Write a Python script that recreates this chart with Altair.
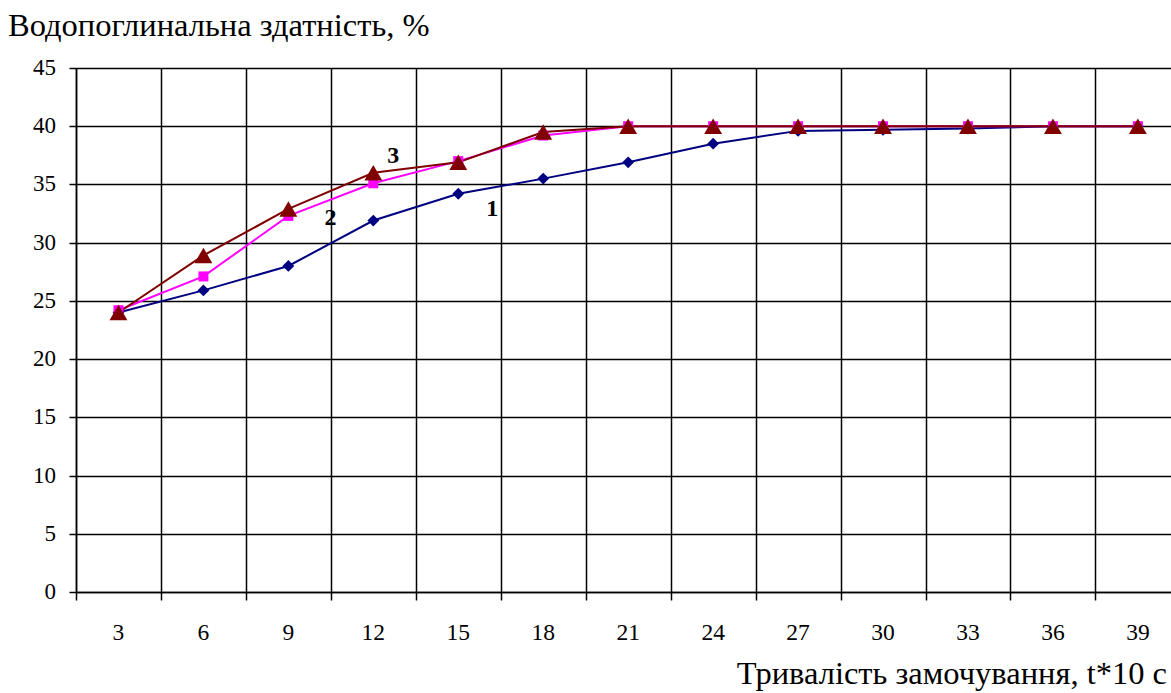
import altair as alt
import pandas as pd

# Soaking time, t*10 s
times = [3, 6, 9, 12, 15, 18, 21, 24, 27, 30, 33, 36, 39]

# Water absorption, %
series_1 = [24.0, 25.9, 28.0, 31.9, 34.2, 35.5, 36.9, 38.5, 39.6, 39.7, 39.8, 40.0, 40.0]
series_2 = [24.2, 27.1, 32.3, 35.1, 37.0, 39.2, 40.0, 40.0, 40.0, 40.0, 40.0, 40.0, 40.0]
series_3 = [24.0, 28.9, 32.9, 36.0, 36.9, 39.5, 40.0, 40.0, 40.0, 40.0, 40.0, 40.0, 40.0]

y_ticks = [0, 5, 10, 15, 20, 25, 30, 35, 40, 45]

series_colors = ["#000080", "#FF00FF", "#800000"]
series_shapes = ["diamond", "square", "triangle-up"]
series_sizes = [140, 100, 320]

# Curve number labels: (text, time, value, horizontal shift in px)
curve_labels = [("1", 15, 32.9, 34), ("2", 9, 32.1, 42), ("3", 12, 37.4, 20)]

y_title = "Водопоглинальна  здатність, %"
x_title = "Тривалість замочування, t*10 с"

FONT = "'Times New Roman', 'Liberation Serif', 'DejaVu Serif', serif"
W, H = 1095, 524
BAND = 84.95

x_enc = alt.X(
    "t:O",
    sort=times,
    bandPosition=0.5,
    scale=alt.Scale(
        type="band", paddingInner=0, paddingOuter=0, domain=times,
        range=[0, BAND * len(times)],
    ),
    axis=alt.Axis(
        title="",
        labels=False,
        tickBand="extent",
        grid=True,
        tickSize=8,
        gridColor="black",
        gridWidth=1.5,
        domainColor="black",
        domainWidth=1.5,
        tickColor="black",
        tickWidth=1.5,
    ),
)

y_enc = alt.Y(
    "value:Q",
    scale=alt.Scale(domain=[0, 45], nice=False, zero=True),
    axis=alt.Axis(
        title="",
        labels=False,
        values=y_ticks,
        grid=True,
        tickSize=7,
        gridColor="black",
        gridWidth=1.5,
        domainColor="black",
        domainWidth=1.5,
        tickColor="black",
        tickWidth=1.5,
    ),
)

line_layers = []
point_layers = []
for vals, col, shp, sz in zip(
    [series_1, series_2, series_3], series_colors, series_shapes, series_sizes
):
    sdf = pd.DataFrame({"t": times, "value": vals})
    line_layers.append(
        alt.Chart(sdf)
        .mark_line(strokeWidth=2, color=col)
        .encode(x=x_enc, y=y_enc, order=alt.Order("t:Q"))
    )
    point_layers.append(
        alt.Chart(sdf)
        .mark_point(filled=True, opacity=1, color=col, shape=shp, size=sz)
        .encode(x=x_enc, y=y_enc)
    )

label_layers = []
for text, t, v, shift in curve_labels:
    ldf = pd.DataFrame({"t": [t], "value": [v], "label": [text]})
    label_layers.append(
        alt.Chart(ldf)
        .mark_text(font=FONT, fontSize=24, fontWeight="bold", color="black", dx=shift)
        .encode(x=x_enc, y=y_enc, text="label:N")
    )

# Tick labels for the value axis
y_labels = (
    alt.Chart(pd.DataFrame({"value": y_ticks}))
    .mark_text(font=FONT, fontSize=23, color="black", align="right", baseline="middle")
    .encode(x=alt.value(-20), y=y_enc, text="value:Q")
)

# Tick labels for the time axis
x_labels = (
    alt.Chart(pd.DataFrame({"t": times}))
    .mark_text(font=FONT, fontSize=23.5, color="black", align="center", baseline="alphabetic")
    .encode(x=x_enc, y=alt.value(H + 48), text="t:O")
)

# Axis titles
y_title_mark = (
    alt.Chart(pd.DataFrame({"label": [y_title]}))
    .mark_text(font=FONT, fontSize=32.5, color="black", align="left", baseline="alphabetic")
    .encode(x=alt.value(-68), y=alt.value(-32), text="label:N")
)
x_title_mark = (
    alt.Chart(pd.DataFrame({"label": [x_title]}))
    .mark_text(font=FONT, fontSize=32.5, color="black", align="right", baseline="alphabetic")
    .encode(x=alt.value(1091), y=alt.value(H + 92), text="label:N")
)

chart = (
    alt.layer(
        *line_layers, *point_layers, *label_layers,
        y_labels, x_labels, y_title_mark, x_title_mark,
    )
    .properties(
        width=W,
        height=H,
        autosize=alt.AutoSizeParams(type="none"),
        padding={"left": 76, "top": 68, "right": 0, "bottom": 101},
        background="white",
    )
    .configure_view(strokeWidth=0)
)

chart.save("out.html", embed_options={"renderer": "svg", "actions": False})
